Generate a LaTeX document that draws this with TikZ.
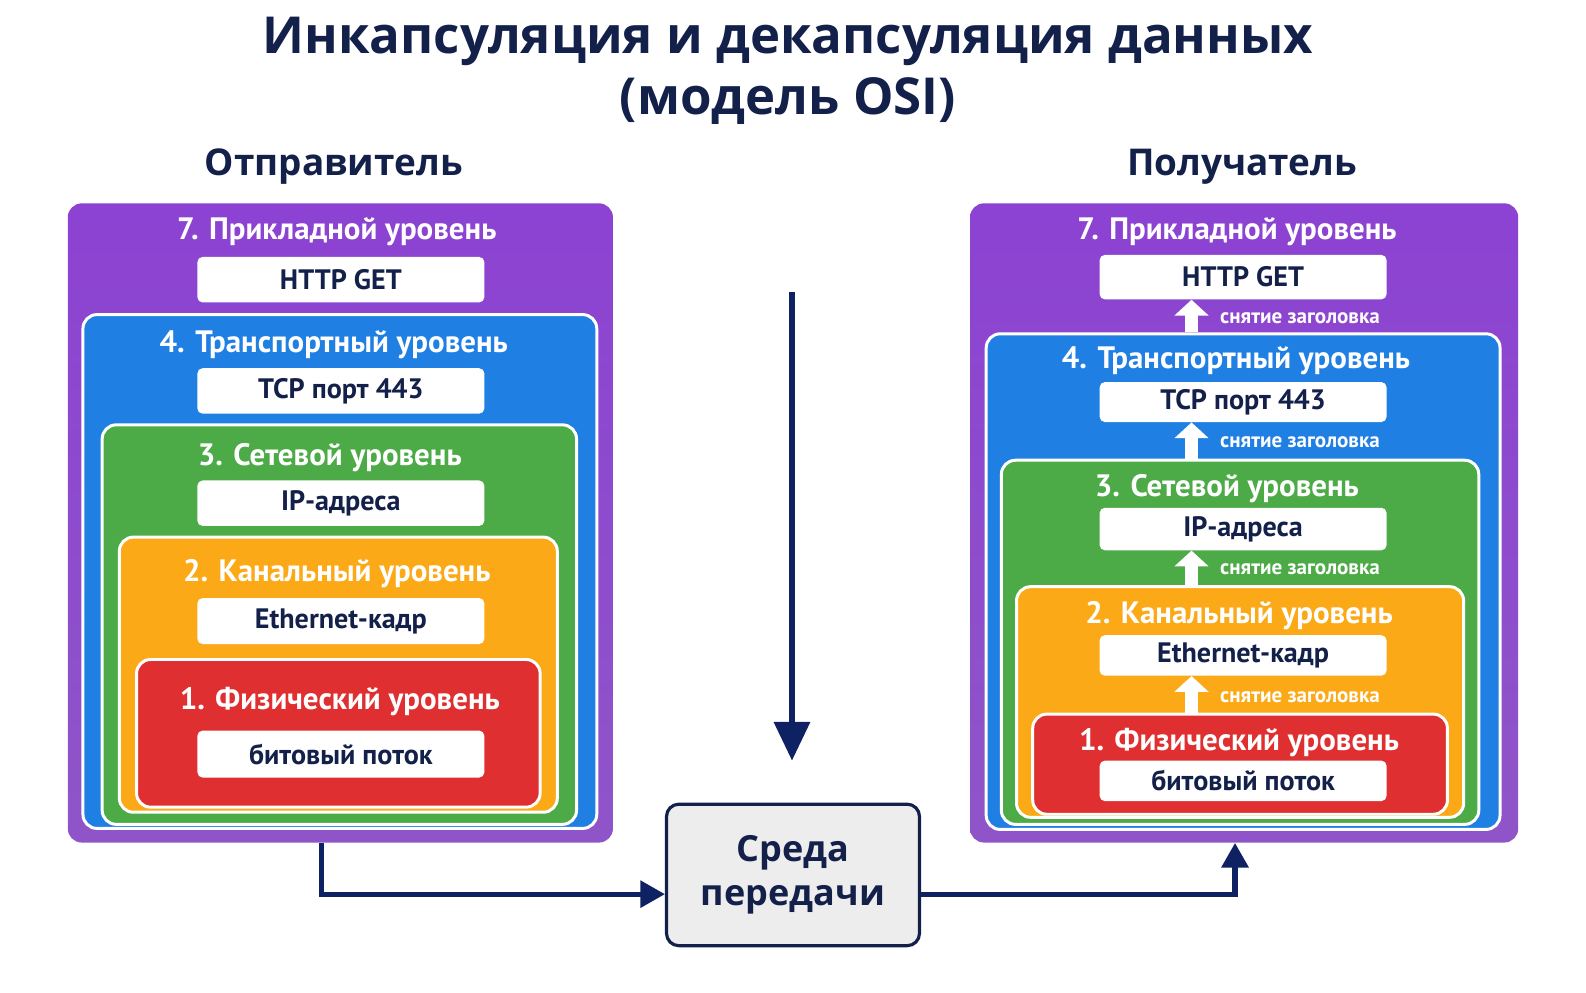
\documentclass[tikz,border=0pt]{standalone}
\usepackage{fontspec}
\setmainfont{PT Sans}
\newfontfamily\headfont{Open Sans}
\usetikzlibrary{arrows.meta,fit}
\definecolor{navy}{HTML}{13204A}
\definecolor{arrc}{HTML}{0E2263}
\definecolor{purA}{HTML}{8C42D2}
\definecolor{purB}{HTML}{8F55C8}
\definecolor{bluec}{HTML}{1F7FE3}
\definecolor{greenc}{HTML}{4CAB47}
\definecolor{orangec}{HTML}{FCA918}
\definecolor{redc}{HTML}{DF2F30}
\definecolor{medfill}{HTML}{EDEDED}
\tikzset{
  layer/.style={rounded corners=8pt, inner sep=0pt, draw=white, line width=1.7pt},
  outer/.style={rounded corners=8pt, inner sep=0pt, top color=purA, bottom color=purB},
  packet/.style={fill=white, rounded corners=3pt, inner sep=0pt, text=navy,
    minimum width=57.4mm, minimum height=#1,
    font=\bfseries\fontsize{16}{18}\selectfont},
  ltitle/.style={text=white, inner sep=0pt, font=\bfseries\fontsize{17.6}{20}\selectfont},
  hdr/.style={text=navy, inner sep=0pt, font=\headfont\bfseries\fontsize{21}{24}\selectfont},
  lbl/.style={text=white, inner sep=0pt, anchor=west, font=\bfseries\fontsize{12}{14}\selectfont},
  uparr/.style={draw=white, line width=7pt, -{Triangle[width=19pt,length=9pt]}},
  conn/.style={draw=arrc, line width=2.9pt, -{Triangle[width=15pt,length=14pt]}},
  bigarr/.style={draw=arrc, line width=3.4pt, -{Triangle[width=20pt,length=22pt]}},
  medium/.style={fill=medfill, draw=navy, line width=1.8pt, rounded corners=7pt, inner sep=0pt,
    minimum width=50.6mm, minimum height=28.3mm,
    align=center, text=navy, font=\headfont\bfseries\fontsize{20.5}{25}\selectfont}
}
\begin{document}
\begin{tikzpicture}[x=0.20230mm,y=-0.20230mm]
\useasboundingbox[fill=white] (0,0) rectangle (1568,981);

% title
\node[text=navy, align=center, inner sep=0pt, font=\headfont\bfseries\fontsize{29}{35}\selectfont]
  (title) at (779,70) {Инкапсуляция и декапсуляция данных\\(модель OSI)};
\node[hdr] (sender) at (330,165) {Отправитель};
\node[hdr] (receiver) at (1228,165) {Получатель};

% ---------- sender ----------
\node[outer, fit={(67,201) (606,833)}] (L7) {};
\node[ltitle] (L7t) at (333,229) {7. Прикладной уровень};
\node[packet=9.1mm] (L7p) at (337,276.5) {HTTP GET};
\node[layer, fill=bluec, fit={(82,311) (590,819)}] (L4) {};
\node[ltitle] (L4t) at (330,341) {4. Транспортный уровень};
\node[packet=9.1mm] (L4p) at (337,386.5) {TCP порт 443};
\node[layer, fill=greenc, fit={(101,420) (570,815)}] (L3) {};
\node[ltitle] (L3t) at (326,452) {3. Сетевой уровень};
\node[packet=9.1mm] (L3p) at (337,497.5) {IP-адреса};
\node[layer, fill=orangec, fit={(118,531) (551,803)}] (L2) {};
\node[ltitle] (L2t) at (333,567) {2. Канальный уровень};
\node[packet=9.2mm] (L2p) at (337,614) {Ethernet-кадр};
\node[layer, fill=redc, fit={(135,652) (534,798)}] (L1) {};
\node[ltitle] (L1t) at (336,694) {1. Физический уровень};
\node[packet=9.4mm] (L1p) at (337,745.5) {битовый поток};

% ---------- receiver ----------
\node[outer, fit={(959,201) (1501,833)}] (R7) {};
\node[ltitle] (R7t) at (1223,229) {7. Прикладной уровень};
\node[packet=8.9mm] (R7p) at (1229,274) {HTTP GET};
\node[layer, fill=bluec, fit={(975,330) (1483,820)}] (R4) {};
\node[ltitle] (R4t) at (1222,357) {4. Транспортный уровень};
\node[packet=8.0mm] (R4p) at (1229,397.5) {TCP порт 443};
\node[layer, fill=greenc, fit={(990,455) (1462,815)}] (R3) {};
\node[ltitle] (R3t) at (1213,483) {3. Сетевой уровень};
\node[packet=8.5mm] (R3p) at (1229,523) {IP-адреса};
\node[layer, fill=orangec, fit={(1005,580) (1447,808)}] (R2) {};
\node[ltitle] (R2t) at (1225,609) {2. Канальный уровень};
\node[packet=8.1mm] (R2p) at (1229,648) {Ethernet-кадр};
\node[layer, fill=redc, fit={(1021,706) (1431,805)}] (R1) {};
\node[ltitle] (R1t) at (1225,734) {1. Физический уровень};
\node[packet=8.1mm] (R1p) at (1229,772) {битовый поток};

\coordinate (ax) at (1178,0);
\draw[uparr] (R4.north -| ax) -- (R7p.south -| ax);
\draw[uparr] (R3.north -| ax) -- (R4p.south -| ax);
\draw[uparr] (R2.north -| ax) -- (R3p.south -| ax);
\draw[uparr] (R1.north -| ax) -- (R2p.south -| ax);
\node[lbl] (lb1) at (1206,315) {снятие заголовка};
\node[lbl] (lb2) at (1206,437) {снятие заголовка};
\node[lbl] (lb3) at (1206,563) {снятие заголовка};
\node[lbl] (lb4) at (1206,689) {снятие заголовка};

% ---------- medium ----------
\coordinate (vtop) at (783,289);
\coordinate (vtip) at (783,752);
\draw[bigarr] (vtop) -- (vtip);
\node[medium] (med) at (784,865) {Среда\\передачи};

\coordinate (lx) at (318,0);
\coordinate (rx) at (1221,0);
\coordinate (medin) at (med.west |- 0,884);
\coordinate (medout) at (med.east |- 0,884);
\draw[conn] (L7.south -| lx) |- (medin);
\draw[conn] (medout) -| (R7.south -| rx);
\end{tikzpicture}
\end{document}
